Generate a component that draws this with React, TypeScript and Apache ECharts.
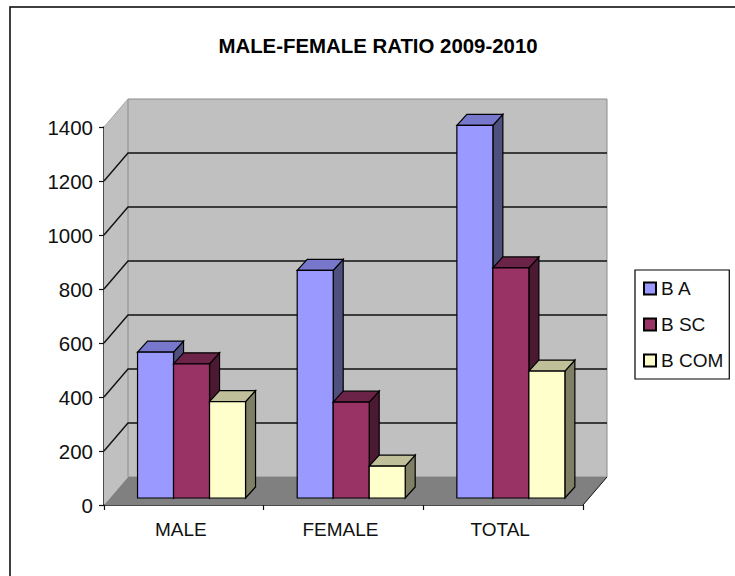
import React, { useEffect, useRef } from "react";
import * as echarts from "echarts";

const categories = ["MALE", "FEMALE", "TOTAL"];
const baValues = [540, 843, 1380];
const bscValues = [497, 355, 852];
const bcomValues = [357, 118, 470];
const seriesNames = ["B A", "B SC", "B COM"];
const yTicks = { min: 0, max: 1400, interval: 200 };
const titleText = "MALE-FEMALE RATIO 2009-2010";

const FONT = "'Liberation Sans', Arial, sans-serif";
const DX = 24;
const DY = 28;

function shade(pts: number[][], fill: string, stroke?: string, w = 1) {
  return {
    type: "polygon",
    shape: { points: pts },
    style: { fill, stroke: stroke || "none", lineWidth: w },
  };
}

function wallsRender(_p: any, api: any) {
  const bl = api.coord([0, 0]);
  const tl = api.coord([0, 1400]);
  const size = api.size([1, 0]);
  const L = bl[0] - size[0] / 2;
  const R = L + size[0] * 3;
  const B = bl[1];
  const T = tl[1];
  const children: any[] = [];
  children.push(shade([[L, B], [L + DX, B - DY], [L + DX, T - DY], [L, T]], "#c0c0c0"));
  children.push(shade([[L + DX, B - DY], [R + DX, B - DY], [R + DX, T - DY], [L + DX, T - DY]], "#c0c0c0", "#8c8c8c", 1));
  children.push(shade([[L, B], [R, B], [R + DX, B - DY], [L + DX, B - DY]], "#808080"));
  for (let v = 200; v <= 1200; v += 200) {
    const y = api.coord([0, v])[1];
    children.push({
      type: "polyline",
      shape: { points: [[L, y], [L + DX, y - DY], [R + DX, y - DY]] },
      style: { fill: "none", stroke: "#111", lineWidth: 1.4 },
    });
  }
  children.push({
    type: "polyline",
    shape: { points: [[L, T], [L + DX, T - DY]] },
    style: { fill: "none", stroke: "#a6a6a6", lineWidth: 1 },
  });
  children.push({
    type: "line",
    shape: { x1: R, y1: B, x2: R + DX, y2: B - DY },
    style: { stroke: "#111", lineWidth: 1 },
  });
  return { type: "group", silent: true, children };
}

function barRender(index: number, front: string, top: string, side: string) {
  return (_p: any, api: any) => {
    const cat = api.value(0);
    const val = api.value(1);
    const c = api.coord([cat, 0]);
    const zero = c[1];
    const catW = api.size([1, 0])[0];
    const h = zero - api.coord([cat, val])[1];
    const barW = 36;
    const shiftX = 7.7;
    const shiftY = 7;
    const depthX = 10;
    const depthY = 11;
    const x0 = c[0] - catW / 2 + (catW - barW * 3) / 2 + shiftX + index * barW;
    const x1 = x0 + barW;
    const yB = zero - shiftY;
    const yT = yB - h;
    const stroke = "#000";
    return {
      type: "group",
      children: [
        shade([[x1, yB], [x1 + depthX, yB - depthY], [x1 + depthX, yT - depthY], [x1, yT]], side, stroke, 1.2),
        shade([[x0, yT], [x1, yT], [x1 + depthX, yT - depthY], [x0 + depthX, yT - depthY]], top, stroke, 1.2),
        shade([[x0, yB], [x1, yB], [x1, yT], [x0, yT]], front, stroke, 1.2),
      ],
    };
  };
}

const colors = [
  { front: "#9999ff", top: "#7777cc", side: "#50507f" },
  { front: "#993366", top: "#6b2347", side: "#4c1933" },
  { front: "#ffffcc", top: "#bfbf99", side: "#7f7f66" },
];

const valueLists = [baValues, bscValues, bcomValues];

export default function App() {
  const ref = useRef<HTMLDivElement>(null);
  useEffect(() => {
    const chart = echarts.init(ref.current!, undefined, { renderer: "svg" });
    chart.setOption({
      animation: false,
      backgroundColor: "#ffffff",
      title: {
        text: titleText,
        left: 373,
        textAlign: "center",
        top: 31,
        textStyle: { fontFamily: FONT, fontSize: 20.4, fontWeight: "bold", color: "#000" },
      },
      grid: { left: 104, top: 127, width: 479, height: 378 },
      xAxis: {
        type: "category",
        data: categories,
        axisLine: { show: true, lineStyle: { color: "#111", width: 1.5 } },
        axisTick: { show: true, alignWithLabel: false, length: 5, lineStyle: { color: "#111", width: 1.2 } },
        axisLabel: { fontFamily: FONT, fontSize: 19, color: "#111", margin: 15, padding: [0, 6, 0, 0] },
        splitLine: { show: false },
      },
      yAxis: {
        type: "value",
        min: yTicks.min,
        max: yTicks.max,
        interval: yTicks.interval,
        axisLine: { show: true, lineStyle: { color: "#111", width: 1.5 } },
        axisTick: { show: true, length: 5, lineStyle: { color: "#111", width: 1.2 } },
        axisLabel: {
          fontFamily: FONT,
          fontSize: 20.5,
          color: "#111",
          margin: 11,
          padding: [0, 0, 7, 0],
          formatter: (v: number) => String(v),
        },
        splitLine: { show: false },
      },
      legend: {
        show: true,
        orient: "vertical",
        left: 635,
        top: 270,
        data: seriesNames,
        itemWidth: 12,
        itemHeight: 12,
        itemGap: 17,
        padding: [9, 6, 9, 8],
        backgroundColor: "#fff",
        borderColor: "#000",
        borderWidth: 1.2,
        borderRadius: 0,
        icon: "rect",
        textStyle: { fontFamily: FONT, fontSize: 19, color: "#111", padding: [0, 0, 0, 0] },
      },
      graphic: [
        {
          type: "rect",
          z: -10,
          silent: true,
          shape: { x: 10, y: 7, width: 800, height: 700 },
          style: { fill: "none", stroke: "#000", lineWidth: 1.5 },
        },
      ],
      series: [
        {
          type: "custom",
          name: "walls",
          z: 1,
          silent: true,
          clip: false,
          data: [[0, 0]],
          renderItem: wallsRender,
        },
        ...seriesNames.map((name, i) => ({
          type: "custom",
          name,
          z: 2 + i,
          clip: false,
          itemStyle: { color: colors[i].front, borderColor: "#000", borderWidth: 1.2 },
          encode: { x: 0, y: 1 },
          data: valueLists[i].map((v, k) => [k, v]),
          renderItem: barRender(i, colors[i].front, colors[i].top, colors[i].side),
        })),
      ],
    });
    return () => chart.dispose();
  }, []);
  return <div ref={ref} style={{ position: "fixed", left: 0, top: 0, width: 735, height: 576 }} />;
}
